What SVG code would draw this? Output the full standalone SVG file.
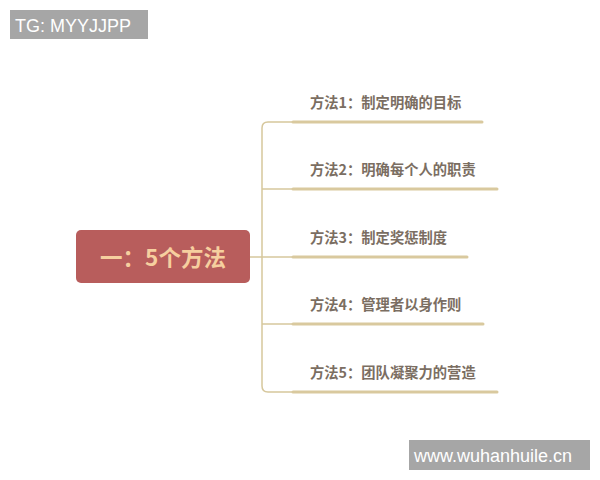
<svg xmlns="http://www.w3.org/2000/svg" width="600" height="480" viewBox="0 0 600 480">
<style>
.wm{fill:#a6a6a6}
.wmt{fill:#ffffff;font-family:"Liberation Sans",Arial,sans-serif;font-size:18px}
.thin{fill:none;stroke:#d6c79c;stroke-width:1.5}
.thick{fill:none;stroke:#d9c99e;stroke-width:3;stroke-linecap:round}
.lbl{fill:#7b6e62;font-family:"Noto Sans CJK SC","Noto Sans",sans-serif;font-size:14.3px;font-weight:bold}
.root{fill:#f6cf9f;font-family:"Noto Sans CJK SC","Noto Sans",sans-serif;font-size:22.5px;font-weight:bold}
</style>
<rect width="600" height="480" fill="#ffffff"/>
<g id="watermark-top">
<rect class="wm" x="10" y="10" width="138" height="29"/>
<text class="wmt" x="15" y="31.5">TG: MYYJJPP</text>
</g>
<g id="watermark-bottom">
<rect class="wm" x="409" y="440" width="181" height="30"/>
<text class="wmt" x="414" y="462">www.wuhanhuile.cn</text>
</g>
<g id="connectors">
<path class="thin" d="M250 257 H292"/>
<path class="thin" d="M292 122 H268 Q262 122 262 128 V386 Q262 392 268 392 H292"/>
<path class="thin" d="M262 189 H292"/>
<path class="thin" d="M262 324 H292"/>
<path class="thick" d="M293 122 H482"/>
<path class="thick" d="M293 189 H497"/>
<path class="thick" d="M293 257 H467"/>
<path class="thick" d="M293 324 H483"/>
<path class="thick" d="M293 392 H497"/>
</g>
<g id="root">
<rect x="76" y="230" width="174" height="53" rx="5" fill="#b85d5c"/>
<text class="root" x="163" y="266" text-anchor="middle">一：5个方法</text>
</g>
<g id="m1"><text class="lbl" x="310" y="108">方法1：制定明确的目标</text></g>
<g id="m2"><text class="lbl" x="310" y="175">方法2：明确每个人的职责</text></g>
<g id="m3"><text class="lbl" x="310" y="243">方法3：制定奖惩制度</text></g>
<g id="m4"><text class="lbl" x="310" y="310">方法4：管理者以身作则</text></g>
<g id="m5"><text class="lbl" x="310" y="378">方法5：团队凝聚力的营造</text></g>
</svg>
